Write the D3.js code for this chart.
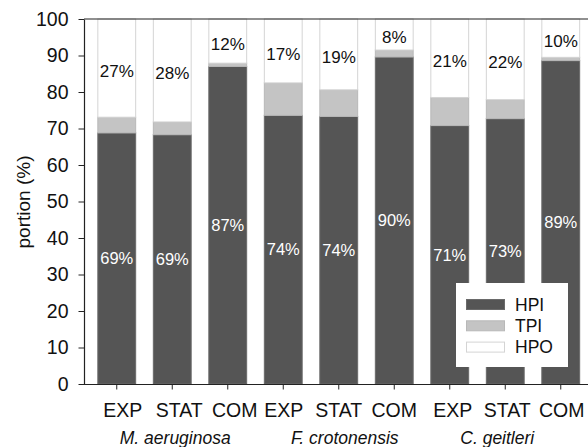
<!DOCTYPE html>
<html><head><meta charset="utf-8">
<script src="https://cdn.jsdelivr.net/npm/d3@7"></script>
<style>
html,body{margin:0;padding:0;background:#fff;}
svg{display:block;font-family:"Liberation Sans",Arial,sans-serif;}
</style></head>
<body>
<svg id="chart" width="588" height="447"></svg>
<script>
// ---- data ----
const categories = ["EXP","STAT","COM","EXP","STAT","COM","EXP","STAT","COM"];
const species = ["M. aeruginosa","F. crotonensis","C. geitleri"];
const HPI = [68.8, 68.3, 87.0, 73.6, 73.3, 89.6, 70.8, 72.7, 88.6];
const TPI = [4.3, 3.5, 0.9, 8.9, 7.3, 1.9, 7.7, 5.2, 0.9];
const HPO = [26.9, 28.2, 12.1, 17.5, 19.4, 8.5, 21.5, 22.1, 10.5];
const hpiLabels = ["69%","69%","87%","74%","74%","90%","71%","73%","89%"];
const hpoLabels = ["27%","28%","12%","17%","19%","8%","21%","22%","10%"];
const seriesNames = ["HPI","TPI","HPO"];
const yTicks = [0,10,20,30,40,50,60,70,80,90,100];

// ---- drawing ----
(function(){
const svg = d3.select("#chart");
const mLeft = 84, mRight = 588, mTop = 19, mBottom = 384;
const ids = d3.range(categories.length);
const x = d3.scaleBand().domain(ids).range([89, 588.5]).paddingInner(0.3).paddingOuter(0.15);
const y = d3.scaleLinear().domain([0,100]).range([mBottom, mTop]);
const colors = {HPI:"#555555", TPI:"#c4c4c4", HPO:"#ffffff"};
const strokes = {HPI:"#6a6a6a", TPI:"#b8b8b8", HPO:"#d4d4d4"};

const rows = ids.map(i => ({i, HPI:HPI[i], TPI:TPI[i], HPO:HPO[i]}));
const stack = d3.stack().keys(seriesNames)(rows);

// bars
const g = svg.append("g");
stack.forEach(layer => {
  g.selectAll(null).data(layer).enter().append("rect")
    .attr("x", d => x(d.data.i) + 0.5)
    .attr("width", x.bandwidth() - 1)
    .attr("y", d => y(d[1]))
    .attr("height", d => y(d[0]) - y(d[1]))
    .attr("fill", colors[layer.key])
    .attr("stroke", strokes[layer.key])
    .attr("stroke-width", 1);
});

// labels in bars
svg.append("g").selectAll("text").data(ids).enter().append("text")
  .attr("x", i => x(i) + x.bandwidth()/2)
  .attr("y", i => y(HPI[i]/2))
  .attr("dy", "0.35em")
  .attr("text-anchor","middle")
  .attr("font-size", 16.5)
  .attr("fill","#ffffff")
  .text(i => hpiLabels[i]);

svg.append("g").selectAll("text").data(ids).enter().append("text")
  .attr("x", i => x(i) + x.bandwidth()/2)
  .attr("y", i => (y(100) + y(HPI[i] + TPI[i]))/2 + 3)
  .attr("dy", "0.35em")
  .attr("text-anchor","middle")
  .attr("font-size", 17)
  .attr("fill","#111")
  .text(i => hpoLabels[i]);

// frame top line
svg.append("line").attr("x1", mLeft).attr("x2", mRight).attr("y1", mTop).attr("y2", mTop)
  .attr("stroke","#222").attr("stroke-width",1.2);

// y axis
const yAxis = svg.append("g").attr("transform", `translate(${mLeft},0)`)
  .call(d3.axisLeft(y).tickValues(yTicks).tickSize(5.5).tickPadding(10).tickSizeOuter(0));
yAxis.select(".domain").attr("stroke","#222").attr("stroke-width",1.2);
yAxis.selectAll(".tick line").attr("stroke","#222");
yAxis.selectAll(".tick text").attr("font-size",19.5).attr("fill","#111")
  .attr("font-family","Liberation Sans, Arial, sans-serif");

// x axis
const catDx = [6, 7, 7, 0.5, 0, 0, 3, 2, 1];
const xAxis = svg.append("g").attr("transform", `translate(0,${mBottom})`)
  .call(d3.axisBottom(x).tickSize(5.5).tickPadding(14).tickSizeOuter(0).tickFormat(i => categories[i]));
xAxis.select(".domain").attr("d", `M${mLeft},0.5H${mRight}`).attr("stroke","#222").attr("stroke-width",1.2);
xAxis.selectAll(".tick line").attr("stroke","#222");
xAxis.selectAll(".tick text").attr("font-size",19.5).attr("fill","#111")
  .attr("font-family","Liberation Sans, Arial, sans-serif")
  .attr("dx", i => catDx[i]);

// species labels
const spDx = [3, 6, -8];
svg.append("g").selectAll("text").data(species).enter().append("text")
  .attr("x", (s, k) => x(k*3+1) + x.bandwidth()/2 + spDx[k])
  .attr("y", 444)
  .attr("text-anchor","middle")
  .attr("font-size",17.5)
  .attr("font-style","italic")
  .attr("fill","#111")
  .text(s => s);

// y title
svg.append("text")
  .attr("transform","translate(30,202) rotate(-90)")
  .attr("text-anchor","middle")
  .attr("font-size",19)
  .attr("fill","#111")
  .text("portion (%)");

// legend
const lg = svg.append("g").attr("transform","translate(456,283)");
lg.append("rect").attr("width",112).attr("height",84).attr("fill","#fff");
seriesNames.forEach((s, k) => {
  lg.append("rect").attr("x",10.5).attr("y",16.5 + k*21.3).attr("width",38).attr("height",10)
    .attr("fill",colors[s]).attr("stroke",strokes[s]).attr("stroke-width",1);
  lg.append("text").attr("x",59).attr("y",21.5 + k*21.3).attr("dy","0.35em")
    .attr("font-size",17.5).attr("fill","#111").text(s);
});
})();
</script>
</body></html>
